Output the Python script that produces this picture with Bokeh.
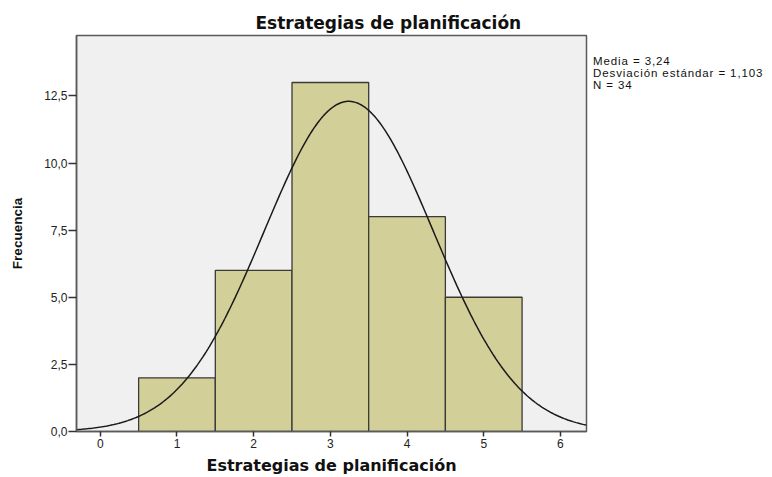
import numpy as np
from bokeh.plotting import figure
from bokeh.models import Range1d, FixedTicker, CustomJSTickFormatter, ColumnDataSource, Div
from bokeh.layouts import row
from bokeh.embed import file_html
from bokeh.resources import INLINE

# data
bin_left = [0.5, 1.5, 2.5, 3.5, 4.5]
bin_right = [1.5, 2.5, 3.5, 4.5, 5.5]
counts = [2, 6, 13, 8, 5]
mean = 3.24
std = 1.103
n = 34
x_ticks = [0, 1, 2, 3, 4, 5, 6]
y_ticks = [0, 2.5, 5.0, 7.5, 10.0, 12.5]
stats_lines = ["Media = 3,24", "Desviación estándar = 1,103", "N = 34"]
title_text = "Estrategias de planificación"
x_label = "Estrategias de planificación"
y_label = "Frecuencia"

FL, FT, FB, FR = 76, 35, 432, 586  # frame edges (page px)
W, H = 590, 477
p = figure(width=W, height=H, output_backend="svg", toolbar_location=None,
           x_range=Range1d(-0.31, 6.34), y_range=Range1d(0, 14.75),
           min_border_left=FL, min_border_right=W - FR, min_border_top=FT,
           min_border_bottom=H - FB)
p.background_fill_color = "#f0f0f0"
p.border_fill_color = "white"
p.outline_line_color = "#5a5a5a"
p.outline_line_width = 1.5
p.xgrid.visible = False
p.ygrid.visible = False

p.title.text = title_text
p.title.align = "left"
p.title.offset = 179
p.title.text_font = "DejaVu Sans"
p.title.text_font_style = "bold"
p.title.text_font_size = "17px"
p.title.text_color = "#111111"
p.title.standoff = 6

src = ColumnDataSource(dict(left=bin_left, right=bin_right, top=counts, bottom=[0]*len(counts)))
p.quad(left="left", right="right", top="top", bottom="bottom", source=src,
       fill_color="#d3cf98", line_color="#3a3a36", line_width=1.3)

xs = np.linspace(-0.31, 6.34, 300)
ys = n * 1.0 * np.exp(-0.5 * ((xs - mean) / std) ** 2) / (std * np.sqrt(2 * np.pi))
p.line(xs, ys, line_color="#1a1a1a", line_width=1.5)

for ax in (p.xaxis[0], p.yaxis[0]):
    ax.axis_line_color = "#5a5a5a"
    ax.axis_line_width = 1.5
    ax.major_tick_line_color = "#333333"
    ax.major_tick_line_width = 1.5
    ax.major_tick_in = 0
    ax.minor_tick_line_color = None
    ax.major_label_text_font = "Liberation Sans"
    ax.major_label_text_font_size = "12px"
    ax.major_label_text_color = "#222222"
    ax.axis_label_text_font_style = "bold"
    ax.axis_label_text_color = "#111111"

p.xaxis.major_tick_out = 5
p.yaxis.major_tick_out = 8
p.xaxis.ticker = FixedTicker(ticks=x_ticks)
p.yaxis.ticker = FixedTicker(ticks=y_ticks)
p.yaxis.formatter = CustomJSTickFormatter(code="return tick.toFixed(1).replace('.', ',');")
p.xaxis.formatter = CustomJSTickFormatter(code="return tick.toFixed(0);")
p.xaxis.major_label_standoff = 2
p.yaxis.major_label_standoff = 1

p.xaxis.axis_label = x_label
p.xaxis.axis_label_text_font = "DejaVu Sans"
p.xaxis.axis_label_text_font_size = "16px"
p.xaxis.axis_label_standoff = 5
p.yaxis.axis_label = y_label
p.yaxis.axis_label_text_font = "Liberation Sans"
p.yaxis.axis_label_text_font_size = "13.5px"
p.yaxis.axis_label_standoff = 16

stats = Div(text="<br>".join(stats_lines), width=180, height=120, margin=(0, 0, 0, 0),
            styles={"font-family": "'Liberation Sans', Arial, sans-serif", "font-size": "11.5px",
                    "line-height": "12px", "color": "#111111", "padding-top": "55px",
                    "padding-left": "3px", "white-space": "nowrap", "letter-spacing": "0.9px"})

layout = row(p, stats)
open("out.html", "w").write(file_html(layout, INLINE))
